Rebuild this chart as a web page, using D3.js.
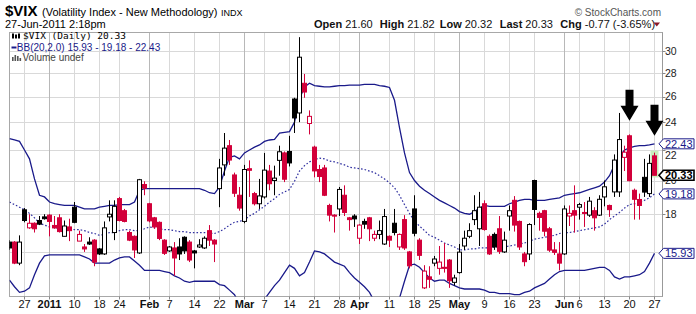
<!DOCTYPE html>
<html><head><meta charset="utf-8">
<script src="https://cdn.jsdelivr.net/npm/d3@7"></script>
<style>body{margin:0;background:#fff}svg{display:block}</style>
</head><body><div id="chart"></div>
<script>
// ---------- DATA ----------
const dates = [
"12/21","12/22","12/23","12/27","12/28","12/29","12/30","12/31",
"1/3","1/4","1/5","1/6","1/7","1/10","1/11","1/12","1/13","1/14","1/18","1/19","1/20","1/21","1/24","1/25","1/26","1/27","1/28","1/31",
"2/1","2/2","2/3","2/4","2/7","2/8","2/9","2/10","2/11","2/14","2/15","2/16","2/17","2/18","2/22","2/23","2/24","2/25","2/28",
"3/1","3/2","3/3","3/4","3/7","3/8","3/9","3/10","3/11","3/14","3/15","3/16","3/17","3/18","3/21","3/22","3/23","3/24","3/25","3/28","3/29","3/30","3/31",
"4/1","4/4","4/5","4/6","4/7","4/8","4/11","4/12","4/13","4/14","4/15","4/18","4/19","4/20","4/21","4/25","4/26","4/27","4/28","4/29",
"5/2","5/3","5/4","5/5","5/6","5/9","5/10","5/11","5/12","5/13","5/16","5/17","5/18","5/19","5/20","5/23","5/24","5/25","5/26","5/27","5/31",
"6/1","6/2","6/3","6/6","6/7","6/8","6/9","6/10","6/13","6/14","6/15","6/16","6/17","6/20","6/21","6/22","6/23","6/24","6/27"];

const open = [
16.5,16.5,15.45,18.25,17.25,17.5,17.65,17.85,17.95,17.38,
17.8,16.8,17.3,18.4,16.55,16.25,16.5,16.6,16.15,15.9,
17.85,17.0,18.9,18.2,17.0,16.8,15.95,19.75,18.6,17.8,
17.55,16.6,16.05,16.2,16.25,16.75,16.5,16.05,16.25,16.2,
17.1,16.6,19.5,21.0,22.3,20.35,19.1,17.6,20.75,19.2,
18.6,19.0,20.6,20.0,21.3,21.8,21.9,25.8,24.7,27.1,
23.9,22.2,20.7,20.8,18.5,17.95,18.3,19.1,17.8,17.9,
16.7,17.6,17.8,16.7,16.9,16.4,16.8,17.5,16.25,17.7,
16.0,18.3,16.6,14.3,14.8,15.45,15.2,15.25,15.6,14.55,
15.0,16.3,16.8,17.7,17.2,18.6,16.8,16.9,17.2,16.0,
17.9,18.8,17.6,15.9,15.9,20.0,18.05,18.2,17.2,16.1,
15.9,15.9,17.9,18.2,18.4,18.1,17.95,18.2,17.95,19.0,
18.5,19.3,19.3,21.5,23.0,19.4,18.85,20.2,19.2,21.6];

const high = [
16.6,16.55,16.85,18.35,18.0,17.55,17.9,18.0,18.0,17.9,
18.0,17.65,17.75,18.7,17.1,16.4,16.75,16.65,16.2,17.6,
18.8,18.8,19.0,18.3,17.1,16.85,20.1,19.95,18.65,17.85,
17.6,16.65,16.3,16.5,16.7,16.8,16.6,16.1,16.65,16.8,
17.4,16.65,21.4,23.2,22.7,20.5,19.6,21.0,21.3,19.3,
20.1,21.8,21.0,20.95,22.3,21.9,23.0,25.9,31.3,27.9,
24.9,22.3,21.0,21.0,18.6,18.0,19.6,19.7,17.85,18.0,
17.45,17.75,17.85,17.1,17.65,18.3,16.85,18.3,16.95,17.95,
16.05,19.1,16.7,15.35,15.3,15.8,16.3,16.45,15.65,14.9,
16.4,17.1,17.5,19.1,19.3,18.8,16.9,17.0,17.9,17.05,
18.5,19.05,17.65,16.0,17.5,20.05,18.15,18.25,17.3,16.5,
16.5,18.5,18.5,19.7,18.65,18.7,19.0,18.4,19.1,20.0,
18.55,21.7,24.7,22.3,23.1,19.5,19.2,21.4,21.7,21.82];

const low = [
16.1,15.4,15.35,17.55,17.2,17.0,17.4,17.7,16.8,17.2,
17.0,16.8,16.55,17.5,16.55,16.0,16.35,15.3,15.85,15.85,
17.6,16.6,17.6,17.55,16.55,15.7,15.9,19.1,17.55,17.2,
16.6,15.85,16.0,14.85,15.6,15.9,15.5,15.2,16.2,16.15,
16.3,15.5,18.4,20.3,21.0,19.0,18.2,17.5,19.0,18.5,
18.3,18.9,19.4,19.1,20.3,19.9,20.9,23.2,24.0,25.9,
23.1,20.2,19.9,19.05,17.6,17.0,17.9,17.9,17.1,17.3,
16.4,17.2,16.55,16.55,16.65,16.35,16.25,16.85,16.1,16.1,
15.2,16.8,15.6,14.25,14.3,15.3,14.9,15.0,14.3,14.4,
14.95,16.1,16.7,17.4,16.3,17.1,15.85,16.1,15.9,15.95,
17.1,17.05,16.1,15.3,15.6,17.4,17.1,16.8,16.0,15.85,
15.1,15.85,17.35,17.0,17.7,17.3,17.85,17.1,17.9,18.45,
17.85,19.0,19.0,20.6,19.95,17.7,17.7,19.0,19.0,20.32];

const close = [
16.2,15.45,16.5,17.65,17.5,17.2,17.45,17.75,17.6,17.25,
17.05,17.35,17.1,17.55,16.9,16.15,16.4,15.5,15.9,17.25,
18.0,18.45,17.65,17.6,16.6,16.1,20.05,19.53,17.63,17.3,
16.69,15.93,16.25,15.7,15.9,16.05,15.6,15.95,16.35,16.7,
16.6,16.4,20.8,22.13,21.32,19.22,18.35,20.7,20.65,18.6,
19.06,20.66,19.8,20.15,21.88,20.08,21.13,24.32,29.4,26.37,
24.44,20.61,20.25,19.1,17.95,17.9,19.45,18.1,17.7,17.74,
17.4,17.45,17.2,16.9,17.1,17.87,16.6,17.0,16.9,16.2,
15.32,16.96,15.83,15.07,14.69,15.65,15.5,15.2,14.62,14.75,
15.99,16.7,17.1,18.2,18.4,17.16,15.9,16.25,16.03,16.6,
18.2,17.4,16.25,15.52,17.43,18.27,17.82,17.07,16.09,15.98,
15.45,18.3,18.05,17.95,18.55,18.05,18.75,17.8,18.86,19.61,
18.26,21.32,22.73,21.85,19.99,18.86,18.5,19.29,21.1,20.33];

const bbUpper = [
22.8,22.7,22.6,22.0,21.4,20.1,19.1,19.0,18.7,18.6,
18.55,18.5,18.5,18.5,18.4,18.3,18.3,18.3,18.4,18.45,
18.5,18.5,18.55,18.55,18.55,18.7,19.4,19.5,19.5,19.5,
19.5,19.5,19.5,19.5,19.5,19.5,19.5,19.5,19.5,19.4,
19.25,19.2,19.6,20.6,21.5,21.6,21.4,21.8,22.0,22.2,
22.35,22.6,22.7,22.75,23.2,23.25,23.3,24.0,25.8,26.8,
27.1,26.9,26.85,26.8,26.8,26.85,26.9,26.9,26.95,26.95,
26.95,27.0,27.0,27.0,26.9,26.85,26.75,25.7,23.6,21.8,
20.5,20.0,19.65,19.4,19.2,19.0,18.8,18.65,18.5,18.35,
18.15,18.05,18.0,18.15,18.35,18.5,18.45,18.45,18.45,18.45,
18.6,18.7,18.8,18.85,18.85,18.8,18.8,18.8,18.85,18.9,
18.95,19.1,19.15,19.2,19.25,19.35,19.45,19.55,19.65,19.9,
20.3,21.0,21.55,22.0,22.15,22.25,22.3,22.3,22.35,22.43];

const bbMiddle = [
18.7,18.55,18.4,18.25,18.05,17.8,17.5,17.4,17.3,17.25,
17.25,17.2,17.2,17.15,17.15,17.1,17.0,16.95,16.85,16.9,
17.0,17.0,17.1,17.15,17.15,17.1,17.1,17.2,17.3,17.25,
17.2,17.15,17.15,17.1,17.05,17.05,17.0,17.0,17.0,17.0,
16.95,16.95,17.05,17.2,17.4,17.55,17.6,17.7,17.9,18.05,
18.25,18.45,18.7,18.9,19.15,19.3,19.45,19.95,20.6,20.95,
21.2,21.35,21.45,21.4,21.25,21.2,21.1,21.0,20.85,20.8,
20.75,20.7,20.6,20.5,20.3,20.1,19.85,19.55,19.1,18.55,
18.05,17.6,17.35,17.1,16.85,16.75,16.6,16.45,16.35,16.25,
16.1,16.1,16.15,16.15,16.2,16.2,16.2,16.25,16.25,16.25,
16.3,16.35,16.4,16.45,16.55,16.65,16.7,16.75,16.8,16.85,
16.95,17.0,17.0,17.05,17.1,17.15,17.2,17.25,17.3,17.45,
17.7,17.9,18.1,18.35,18.55,18.6,18.65,18.8,18.95,19.18];

const bbLower = [
14.65,14.35,14.1,14.15,14.3,14.9,15.45,15.8,15.85,15.85,
15.85,15.85,15.85,15.85,15.85,15.75,15.65,15.45,15.45,15.45,
15.45,15.6,15.7,15.75,15.75,15.55,15.35,15.1,15.1,15.1,
15.1,15.05,15.0,14.85,14.75,14.6,14.55,14.6,14.6,14.6,
14.6,14.6,14.45,14.4,14.2,14.0,13.6,13.3,13.1,13.1,
13.3,13.8,14.1,14.4,14.65,15.0,15.35,15.2,14.85,15.0,
15.5,16.05,16.0,15.9,15.7,15.5,15.4,15.3,15.0,14.75,
14.55,14.35,14.1,13.7,13.4,13.3,13.4,13.7,13.85,14.6,
15.35,15.4,15.25,15.0,14.75,14.6,14.65,14.65,14.5,14.4,
14.3,14.25,14.25,14.25,14.25,14.2,14.1,14.1,14.05,14.05,
14.05,14.0,14.0,14.1,14.15,14.3,14.4,14.5,14.7,14.9,
15.05,15.1,15.1,15.1,15.1,15.1,15.15,15.2,15.25,15.25,
15.1,14.8,14.7,14.8,14.8,14.85,14.9,15.05,15.45,15.93];

const yGrid   = [16, 18, 20, 22, 24, 26, 28, 30];
const yLabels = [18, 20, 22, 24, 26, 28, 30];
const xTickDates  = ["12/27","1/3","1/10","1/18","1/24","2/1","2/7","2/14","2/22","3/1","3/7","3/14","3/21","3/28","4/1","4/11","4/18","4/25","5/2","5/9","5/16","5/23","6/1","6/6","6/13","6/20","6/27"];
const xTickLabels = ["27","2011","10","18","24","Feb","7","14","22","Mar","7","14","21","28","Apr","11","18","25","May","9","16","23","Jun","6","13","20","27"];
const xTickMajor  = [false,true,false,false,false,true,false,false,false,true,false,false,false,false,true,false,false,false,true,false,false,false,true,false,false,false,false];

const arrowDates = ["6/20", "6/27"];
const arrowTips  = [24.1, 23.0];

// ---------- DRAW ----------
const W = 696, H = 314;
const PL = 9.5, PR = 662.5, PT = 32.5, PB = 296.5;
const RED = "#d2003a", NAVY = "#1a1a8a";
const FONT = "'Liberation Sans', Arial, sans-serif";

const svg = d3.select("#chart").append("svg").attr("width", W).attr("height", H)
  .style("font-family", FONT);

const x = d3.scalePoint().domain(dates).range([9.5, 654.5]);
const y = d3.scaleLog().domain([13.92, 31.76]).range([PB, PT]);

const n = dates.length;
const li = n - 1;
const bars = dates.map((d, i) => ({
  d, o: open[i], h: high[i], l: low[i], c: close[i],
  up: i === 0 ? true : close[i] >= close[i - 1]
}));

svg.append("defs").append("clipPath").attr("id", "plot")
  .append("rect").attr("x", PL).attr("y", PT).attr("width", PR - PL).attr("height", PB - PT);

// grid
const grid = svg.append("g");
grid.selectAll("line.h").data(yGrid).join("line")
  .attr("x1", PL).attr("x2", PR)
  .attr("y1", d => Math.round(y(d)) + 0.5).attr("y2", d => Math.round(y(d)) + 0.5)
  .attr("stroke", "#d9d9d9");
grid.selectAll("line.v").data(xTickDates).join("line")
  .attr("x1", d => x(d)).attr("x2", d => x(d))
  .attr("y1", PT).attr("y2", PB)
  .attr("stroke", (d, i) => xTickMajor[i] ? "#b8b8b8" : "#d9d9d9");

// frame
svg.append("rect").attr("x", PL).attr("y", PT).attr("width", PR - PL).attr("height", PB - PT)
  .attr("fill", "none").attr("stroke", "#a8a8a8");
svg.append("line").attr("x1", PR).attr("x2", PR).attr("y1", PT).attr("y2", PB).attr("stroke", "#999");

const plot = svg.append("g").attr("clip-path", "url(#plot)");

// last bar highlight
plot.append("rect")
  .attr("x", x(dates[li]) - 4).attr("width", 8)
  .attr("y", y(high[li]) - 2).attr("height", y(low[li]) - y(high[li]) + 4)
  .attr("fill", "#c8efbc");

// Bollinger bands
const line = arr => d3.line().x((d, i) => x(dates[i])).y(d => y(d))(arr);
plot.append("path").attr("d", line(bbUpper)).attr("fill", "none").attr("stroke", NAVY).attr("stroke-width", 1.3);
plot.append("path").attr("d", line(bbLower)).attr("fill", "none").attr("stroke", NAVY).attr("stroke-width", 1.3);
plot.append("path").attr("d", line(bbMiddle)).attr("fill", "none").attr("stroke", "#3030a0")
  .attr("stroke-width", 1.2).attr("stroke-dasharray", "1.6,2");

// candles
const cg = plot.append("g");
cg.selectAll("line.w").data(bars).join("line")
  .attr("x1", d => x(d.d)).attr("x2", d => x(d.d))
  .attr("y1", d => y(d.h)).attr("y2", d => y(d.l))
  .attr("stroke", d => d.up ? "#000" : RED).attr("stroke-width", 1);
cg.selectAll("rect.b").data(bars).join("rect")
  .attr("x", d => x(d.d) - 2).attr("width", 4)
  .attr("y", d => y(Math.max(d.o, d.c)))
  .attr("height", d => Math.max(1, Math.abs(y(d.o) - y(d.c))))
  .attr("fill", d => d.c > d.o ? "#fff" : (d.up ? "#000" : RED))
  .attr("stroke", d => d.up ? "#000" : RED).attr("stroke-width", 1);

// arrows
const ag = svg.append("g");
arrowDates.forEach((d, k) => {
  const cx = x(d), ty = y(arrowTips[k]);
  const p = d3.path();
  p.moveTo(cx, ty);
  p.lineTo(cx - 9, ty - 15); p.lineTo(cx - 4, ty - 15); p.lineTo(cx - 4, ty - 31);
  p.lineTo(cx + 4, ty - 31); p.lineTo(cx + 4, ty - 15); p.lineTo(cx + 9, ty - 15); p.closePath();
  ag.append("path").attr("d", p.toString()).attr("fill", "#000");
});

// x axis
const xa = svg.append("g");
xa.selectAll("line").data(xTickDates).join("line")
  .attr("x1", d => x(d)).attr("x2", d => x(d)).attr("y1", PB).attr("y2", PB + 3).attr("stroke", "#888");
xa.selectAll("text").data(xTickDates).join("text")
  .attr("x", d => x(d)).attr("y", 307.5).attr("text-anchor", "middle")
  .attr("font-size", 11).attr("font-weight", (d, i) => xTickMajor[i] ? "bold" : "normal")
  .attr("fill", "#111").text((d, i) => xTickLabels[i]);

// y axis (right)
const ya = svg.append("g");
ya.selectAll("line").data(yGrid).join("line")
  .attr("x1", PR).attr("x2", PR + 3)
  .attr("y1", d => Math.round(y(d)) + 0.5).attr("y2", d => Math.round(y(d)) + 0.5).attr("stroke", "#888");
// "22" sits just under its value tag; "20" is partly covered by the last-price tag, as in the reference
const labelShift = {22: 5};
ya.selectAll("text").data(yLabels).join("text")
  .attr("x", 665).attr("y", d => y(d) + (labelShift[d] || 0)).attr("dy", "0.36em")
  .attr("font-size", 10.5).attr("fill", "#222").text(d => d);

// value tags
const tags = [
  {v: bbUpper[li], bold: false},
  {v: close[li], bold: true},
  {v: bbMiddle[li], bold: false},
  {v: bbLower[li], bold: false}
];
const tg = svg.append("g");
tags.forEach(t => {
  const yc = y(t.v);
  const col = t.bold ? "#000" : NAVY;
  tg.append("path")
    .attr("d", `M659,${yc} L663.5,${yc - 5} L694,${yc - 5} L694,${yc + 5} L663.5,${yc + 5} Z`)
    .attr("fill", "#fff").attr("stroke", col).attr("stroke-width", t.bold ? 1.6 : 1);
  tg.append("text").attr("x", 665).attr("y", yc + 3.8)
    .attr("font-size", 11).attr("font-weight", t.bold ? "bold" : "normal")
    .attr("fill", col).text(t.v.toFixed(2));
});

// header
svg.append("text").attr("x", 5).attr("y", 16).attr("font-size", 15).attr("font-weight", "bold").text("$VIX");
svg.append("text").attr("x", 42).attr("y", 16).attr("font-size", 11).text("(Volatility Index - New Methodology)");
svg.append("text").attr("x", 221).attr("y", 16).attr("font-size", 9).text("INDX");
svg.append("text").attr("x", 5).attr("y", 27.5).attr("font-size", 11).text("27-Jun-2011 2:18pm");
svg.append("text").attr("x", 661).attr("y", 15.5).attr("text-anchor", "end").attr("font-size", 10)
  .attr("fill", "#555").text("\u00A9 StockCharts.com");

const prev = close[li - 1];
const chg = close[li] - prev;
const hdr = [
  {lab: "Open", val: open[li].toFixed(2), x: 314},
  {lab: "High", val: high[li].toFixed(2), x: 379.7},
  {lab: "Low", val: low[li].toFixed(2), x: 439.7},
  {lab: "Last", val: close[li].toFixed(2), x: 499.7},
  {lab: "Chg", val: chg.toFixed(2) + " (" + (chg / prev * 100).toFixed(2) + "%)", x: 560.3}
];
hdr.forEach(h => {
  const t = svg.append("text").attr("x", h.x).attr("y", 27.5).attr("font-size", 11).attr("fill", "#111");
  t.append("tspan").attr("font-weight", "bold").text(h.lab);
  t.append("tspan").text("\u00A0" + h.val);
});
svg.append("path").attr("d", "M653.5,22.5 L660,22.5 L656.75,26.5 Z").attr("fill", "#8b1a2a");

// legend
const lg = svg.append("g");
lg.append("rect").attr("x", 12).attr("y", 33.5).attr("width", 2).attr("height", 5).attr("fill", "#000");
lg.append("rect").attr("x", 15).attr("y", 34.5).attr("width", 2).attr("height", 4).attr("fill", "#000");
lg.append("rect").attr("x", 18).attr("y", 33.5).attr("width", 2).attr("height", 5).attr("fill", "#000");
lg.append("text").attr("x", 23).attr("y", 38.8).attr("font-size", 9.5)
  .attr("font-family", "'DejaVu Sans Mono', monospace").attr("fill", "#000")
  .text("$VIX (Daily) " + close[li].toFixed(2));
lg.append("line").attr("x1", 11.5).attr("x2", 16.5).attr("y1", 47.5).attr("y2", 47.5)
  .attr("stroke", NAVY).attr("stroke-width", 2);
lg.append("text").attr("x", 16.8).attr("y", 50.6).attr("font-size", 10).attr("fill", NAVY)
  .text("BB(20,2.0) " + bbLower[li].toFixed(2) + " - " + bbMiddle[li].toFixed(2) + " - " + bbUpper[li].toFixed(2));
[[12, 57, 4], [14.5, 55, 6], [17, 56, 5], [19.5, 58, 3]].forEach(b =>
  lg.append("rect").attr("x", b[0]).attr("y", b[1]).attr("width", 1.6).attr("height", b[2]).attr("fill", "#555"));
lg.append("text").attr("x", 22.5).attr("y", 61).attr("font-size", 10).attr("fill", "#444").text("Volume undef");
</script>
</body></html>
